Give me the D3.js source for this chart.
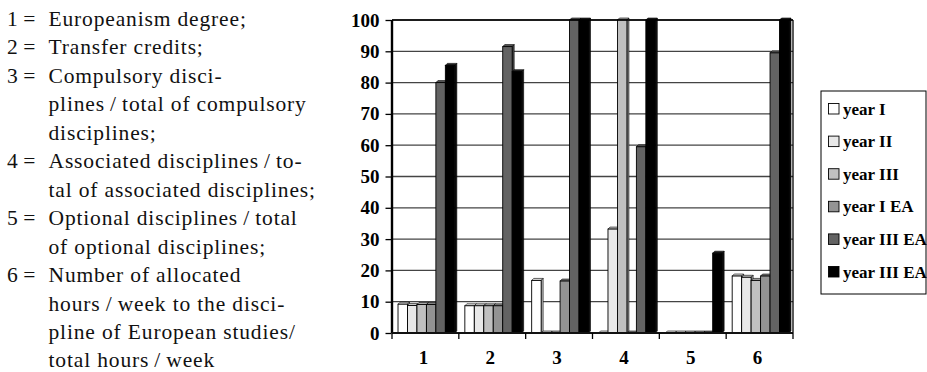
<!DOCTYPE html>
<html>
<head>
<meta charset="utf-8">
<script src="https://cdn.jsdelivr.net/npm/d3@7/dist/d3.min.js"></script>
<style>
  html, body { margin: 0; padding: 0; background: #fff; }
  svg { display: block; }
  svg text { font-family: "Liberation Serif", "Times New Roman", serif; }
</style>
</head>
<body>
<svg id="chart" width="927" height="372"></svg>
<script>
// Categories along the x axis
const categories = ["1", "2", "3", "4", "5", "6"];

// Series names as shown in the legend
const seriesNames = ["year I", "year II", "year III", "year I EA", "year III EA", "year III EA"];
const seriesColors = ["#ffffff", "#e8e8e8", "#c0c0c0", "#939393", "#636363", "#000000"];

// Values (%) per series, one per category
const yearI      = [9.2, 8.7, 16.8, 0, 0, 18.2];
const yearII     = [8.8, 8.7, 0, 33.2, 0, 17.8];
const yearIII    = [9.1, 8.7, 0, 100, 0, 16.8];
const yearIEA    = [9.1, 8.7, 16.6, 0, 0, 18.2];
const yearIIIEA  = [80, 91.5, 100, 59.5, 0, 89.5];
const yearIIIEA2 = [85.5, 83.5, 100, 100, 25.5, 100];

const yTicks = [0, 10, 20, 30, 40, 50, 60, 70, 80, 90, 100];

// Explanatory notes for the category numbers (thin spaces around slashes)
const noteLines = [
  ["1 =", "Europeanism degree;"],
  ["2 =", "Transfer credits;"],
  ["3 =", "Compulsory disci-"],
  ["", "plines\u2009/\u2009total of compulsory"],
  ["", "disciplines;"],
  ["4 =", "Associated disciplines\u2009/\u2009to-"],
  ["", "tal of associated disciplines;"],
  ["5 =", "Optional disciplines\u2009/\u2009total"],
  ["", "of optional disciplines;"],
  ["6 =", "Number of allocated"],
  ["", "hours\u2009/\u2009week to the disci-"],
  ["", "pline of European studies/"],
  ["", "total hours\u2009/\u2009week"]
];

(function () {
  const allSeries = [yearI, yearII, yearIII, yearIEA, yearIIIEA, yearIIIEA2];
  const svg = d3.select("#chart");

  // ---- Notes on the left ----
  const notes = svg.append("g").attr("fill", "#111");
  noteLines.forEach((ln, i) => {
    const yb = 26 + i * 28.45;
    if (ln[0]) {
      notes.append("text").attr("x", 7).attr("y", yb).style("font-size", "21.5px").text(ln[0]);
    }
    notes.append("text").attr("x", 48.5).attr("y", yb).style("font-size", "21.5px")
      .style("letter-spacing", "0.85px").text(ln[1]);
  });

  // ---- Plot area ----
  const pLeft = 392, pRight = 793, pTop = 20, pBottom = 333;

  const x0 = d3.scaleBand().domain(categories).range([pLeft, pRight])
    .paddingInner(0.15).paddingOuter(0.075);
  const x1 = d3.scaleBand().domain(d3.range(allSeries.length)).range([0, x0.bandwidth()]);
  const y = d3.scaleLinear().domain([0, 100]).range([pBottom, pTop]);

  const plot = svg.append("g");

  // back wall
  plot.append("rect").attr("x", pLeft).attr("y", pTop)
    .attr("width", pRight - pLeft).attr("height", pBottom - pTop)
    .attr("fill", "#fff");

  // gridlines
  plot.append("g").selectAll("line").data(yTicks.slice(1)).join("line")
    .attr("x1", pLeft).attr("x2", pRight)
    .attr("y1", d => y(d)).attr("y2", d => y(d))
    .attr("stroke", "#444").attr("stroke-width", 1.3);

  // bars with a shallow 3D top and side
  const depth = 2;
  const groups = plot.append("g").selectAll("g").data(categories).join("g")
    .attr("transform", d => `translate(${x0(d) + 1},0)`);

  groups.each(function (cat, ci) {
    const g = d3.select(this);
    allSeries.forEach((vals, si) => {
      const v = vals[ci];
      const bx = x1(si), bw = x1.bandwidth();
      const by = y(v);
      const base = d3.color(seriesColors[si]);
      g.append("path")
        .attr("d", `M${bx},${by}L${bx + depth},${by - depth}L${bx + bw + depth},${by - depth}L${bx + bw},${by}Z`)
        .attr("fill", si === 5 ? "#222" : base.darker(0.35))
        .attr("stroke", "#000").attr("stroke-width", 0.6);
      g.append("path")
        .attr("d", `M${bx + bw},${by}L${bx + bw + depth},${by - depth}L${bx + bw + depth},${pBottom - depth}L${bx + bw},${pBottom}Z`)
        .attr("fill", si === 5 ? "#111" : base.darker(0.8))
        .attr("stroke", "#000").attr("stroke-width", 0.6);
      g.append("rect")
        .attr("x", bx).attr("y", by)
        .attr("width", bw).attr("height", Math.max(0, pBottom - by))
        .attr("fill", seriesColors[si])
        .attr("stroke", "#000").attr("stroke-width", 0.9);
    });
  });

  // frame: top, right, left axis, floor
  plot.append("line").attr("x1", pLeft).attr("x2", pRight).attr("y1", pTop).attr("y2", pTop)
    .attr("stroke", "#000").attr("stroke-width", 1.3);
  plot.append("line").attr("x1", pRight).attr("x2", pRight).attr("y1", pTop).attr("y2", pBottom)
    .attr("stroke", "#000").attr("stroke-width", 1.3);
  plot.append("line").attr("x1", pLeft).attr("x2", pLeft).attr("y1", pTop).attr("y2", pBottom)
    .attr("stroke", "#000").attr("stroke-width", 2.4);
  plot.append("line").attr("x1", pLeft).attr("x2", pRight).attr("y1", pBottom).attr("y2", pBottom)
    .attr("stroke", "#111").attr("stroke-width", 2.2);

  // y axis
  const yAxis = d3.axisLeft(y).tickValues(yTicks).tickSize(6).tickPadding(6);
  const yg = svg.append("g").attr("transform", `translate(${pLeft - 0.5},0)`).call(yAxis);
  yg.attr("font-family", null).attr("font-size", 19).attr("font-weight", "bold");
  yg.select(".domain").remove();
  yg.selectAll("line").attr("stroke", "#000").attr("stroke-width", 1.3);
  yg.selectAll("text").attr("font-size", 19).style("font-size", "19px")
    .style("font-weight", "bold").attr("fill", "#000");

  // x axis ticks at category boundaries, labels at band centres
  const step = x0.step();
  const bounds = categories.map(c => x0(c) - step * x0.paddingInner() / 2).concat([pRight]);
  svg.append("g").selectAll("line").data(bounds).join("line")
    .attr("x1", d => d).attr("x2", d => d).attr("y1", pBottom).attr("y2", pBottom + 6)
    .attr("stroke", "#000").attr("stroke-width", 1.3);
  svg.append("g").selectAll("text").data(categories).join("text")
    .attr("x", d => x0(d) + x0.bandwidth() / 2 - 2)
    .attr("y", 363.5)
    .attr("text-anchor", "middle")
    .style("font-size", "19px").style("font-weight", "bold")
    .text(d => d);

  // ---- Legend ----
  const lg = svg.append("g");
  lg.append("rect").attr("x", 821).attr("y", 91).attr("width", 105).attr("height", 203)
    .attr("fill", "#fff").attr("stroke", "#000").attr("stroke-width", 1);
  seriesNames.forEach((name, i) => {
    const cy = 109 + i * 32.6;
    lg.append("rect").attr("x", 828.5).attr("y", cy - 5.5).attr("width", 10.5).attr("height", 10.5)
      .attr("fill", seriesColors[i]).attr("stroke", "#000").attr("stroke-width", 0.9);
    lg.append("text").attr("x", 843).attr("y", cy + 5.5)
      .style("font-size", "17px").style("font-weight", "bold")
      .text(name);
  });
})();
</script>
</body>
</html>
